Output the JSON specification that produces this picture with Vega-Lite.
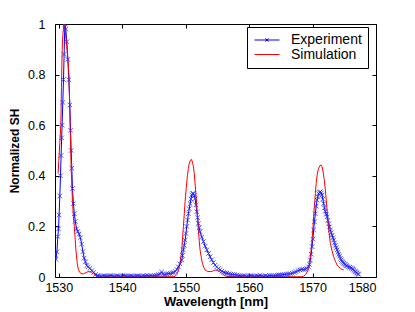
{
"$schema": "https://vega.github.io/schema/vega-lite/v6.json",
"width": 321, "height": 253,
"autosize": "none",
"padding": {"left": 55, "top": 24, "right": 39, "bottom": 35},
"background": "white",
"config": {
  "view": {"stroke": null},
  "font": "Liberation Sans",
  "axis": {"grid": false, "domainColor": "#000", "domainWidth": 1, "tickColor": "#000", "tickSize": -4, "labelColor": "#000", "titleColor": "#000", "labelFont": "Liberation Sans", "titleFont": "Liberation Sans"}
},
"datasets": {
"pts": [
{"wl":1529.4,"v":0.09,"s":"Experiment"},{"wl":1529.55,"v":0.07,"s":"Experiment"},{"wl":1529.7,"v":0.1,"s":"Experiment"},{"wl":1529.85,"v":0.16,"s":"Experiment"},{"wl":1529.95,"v":0.19,"s":"Experiment"},{"wl":1530.05,"v":0.245,"s":"Experiment"},{"wl":1530.16,"v":0.32,"s":"Experiment"},{"wl":1530.27,"v":0.4,"s":"Experiment"},{"wl":1530.36,"v":0.48,"s":"Experiment"},{"wl":1530.45,"v":0.55,"s":"Experiment"},{"wl":1530.52,"v":0.6,"s":"Experiment"},{"wl":1530.63,"v":0.69,"s":"Experiment"},{"wl":1530.74,"v":0.78,"s":"Experiment"},{"wl":1530.84,"v":0.88,"s":"Experiment"},{"wl":1530.95,"v":1.0,"s":"Experiment"},{"wl":1531.1,"v":0.98,"s":"Experiment"},{"wl":1531.26,"v":0.93,"s":"Experiment"},{"wl":1531.42,"v":0.86,"s":"Experiment"},{"wl":1531.58,"v":0.78,"s":"Experiment"},{"wl":1531.74,"v":0.68,"s":"Experiment"},{"wl":1531.85,"v":0.58,"s":"Experiment"},{"wl":1531.95,"v":0.5,"s":"Experiment"},{"wl":1532.05,"v":0.43,"s":"Experiment"},{"wl":1532.16,"v":0.35,"s":"Experiment"},{"wl":1532.3,"v":0.29,"s":"Experiment"},{"wl":1532.45,"v":0.25,"s":"Experiment"},{"wl":1532.6,"v":0.22,"s":"Experiment"},{"wl":1532.8,"v":0.19,"s":"Experiment"},{"wl":1533.0,"v":0.18,"s":"Experiment"},{"wl":1533.2,"v":0.17,"s":"Experiment"},{"wl":1533.4,"v":0.155,"s":"Experiment"},{"wl":1533.6,"v":0.13,"s":"Experiment"},{"wl":1533.8,"v":0.1,"s":"Experiment"},{"wl":1534.0,"v":0.075,"s":"Experiment"},{"wl":1534.2,"v":0.06,"s":"Experiment"},{"wl":1534.4,"v":0.045,"s":"Experiment"},{"wl":1534.6,"v":0.04,"s":"Experiment"},{"wl":1534.9,"v":0.034,"s":"Experiment"},{"wl":1535.2,"v":0.025,"s":"Experiment"},{"wl":1535.5,"v":0.018,"s":"Experiment"},{"wl":1535.8,"v":0.01,"s":"Experiment"},{"wl":1536.1,"v":0.006,"s":"Experiment"},
{"wl":1536.4,"v":0.004,"s":"Experiment"},{"wl":1536.7,"v":0.003,"s":"Experiment"},{"wl":1537.0,"v":0.005,"s":"Experiment"},{"wl":1537.3,"v":0.004,"s":"Experiment"},{"wl":1537.6,"v":0.003,"s":"Experiment"},{"wl":1537.9,"v":0.005,"s":"Experiment"},{"wl":1538.2,"v":0.006,"s":"Experiment"},{"wl":1538.5,"v":0.004,"s":"Experiment"},{"wl":1538.8,"v":0.003,"s":"Experiment"},{"wl":1539.1,"v":0.005,"s":"Experiment"},{"wl":1539.4,"v":0.004,"s":"Experiment"},{"wl":1539.7,"v":0.003,"s":"Experiment"},{"wl":1540.0,"v":0.005,"s":"Experiment"},{"wl":1540.3,"v":0.006,"s":"Experiment"},{"wl":1540.6,"v":0.004,"s":"Experiment"},{"wl":1540.9,"v":0.003,"s":"Experiment"},{"wl":1541.2,"v":0.004,"s":"Experiment"},{"wl":1541.5,"v":0.005,"s":"Experiment"},{"wl":1541.8,"v":0.003,"s":"Experiment"},{"wl":1542.1,"v":0.004,"s":"Experiment"},{"wl":1542.4,"v":0.005,"s":"Experiment"},{"wl":1542.7,"v":0.004,"s":"Experiment"},{"wl":1543.0,"v":0.003,"s":"Experiment"},{"wl":1543.3,"v":0.005,"s":"Experiment"},{"wl":1543.6,"v":0.004,"s":"Experiment"},{"wl":1543.9,"v":0.006,"s":"Experiment"},{"wl":1544.2,"v":0.004,"s":"Experiment"},{"wl":1544.5,"v":0.005,"s":"Experiment"},{"wl":1544.8,"v":0.004,"s":"Experiment"},{"wl":1545.1,"v":0.006,"s":"Experiment"},{"wl":1545.4,"v":0.007,"s":"Experiment"},{"wl":1545.7,"v":0.009,"s":"Experiment"},{"wl":1546.0,"v":0.012,"s":"Experiment"},{"wl":1546.2,"v":0.02,"s":"Experiment"},{"wl":1546.4,"v":0.012,"s":"Experiment"},{"wl":1546.7,"v":0.01,"s":"Experiment"},{"wl":1547.0,"v":0.012,"s":"Experiment"},{"wl":1547.3,"v":0.013,"s":"Experiment"},{"wl":1547.6,"v":0.014,"s":"Experiment"},{"wl":1547.9,"v":0.016,"s":"Experiment"},{"wl":1548.1,"v":0.018,"s":"Experiment"},{"wl":1548.35,"v":0.022,"s":"Experiment"},{"wl":1548.6,"v":0.03,"s":"Experiment"},{"wl":1548.85,"v":0.04,"s":"Experiment"},{"wl":1549.1,"v":0.052,"s":"Experiment"},{"wl":1549.38,"v":0.067,"s":"Experiment"},{"wl":1549.5,"v":0.085,"s":"Experiment"},{"wl":1549.64,"v":0.107,"s":"Experiment"},{"wl":1549.78,"v":0.125,"s":"Experiment"},{"wl":1549.91,"v":0.146,"s":"Experiment"},{"wl":1550.04,"v":0.172,"s":"Experiment"},{"wl":1550.17,"v":0.2,"s":"Experiment"},{"wl":1550.3,"v":0.225,"s":"Experiment"},{"wl":1550.43,"v":0.25,"s":"Experiment"},{"wl":1550.56,"v":0.27,"s":"Experiment"},{"wl":1550.7,"v":0.29,"s":"Experiment"},{"wl":1550.83,"v":0.308,"s":"Experiment"},{"wl":1550.96,"v":0.324,"s":"Experiment"},{"wl":1551.09,"v":0.33,"s":"Experiment"},{"wl":1551.22,"v":0.33,"s":"Experiment"},{"wl":1551.35,"v":0.322,"s":"Experiment"},{"wl":1551.48,"v":0.31,"s":"Experiment"},{"wl":1551.62,"v":0.285,"s":"Experiment"},{"wl":1551.75,"v":0.258,"s":"Experiment"},{"wl":1551.88,"v":0.235,"s":"Experiment"},{"wl":1552.0,"v":0.212,"s":"Experiment"},{"wl":1552.13,"v":0.195,"s":"Experiment"},{"wl":1552.27,"v":0.179,"s":"Experiment"},{"wl":1552.53,"v":0.158,"s":"Experiment"},{"wl":1552.8,"v":0.14,"s":"Experiment"},{"wl":1553.07,"v":0.122,"s":"Experiment"},{"wl":1553.33,"v":0.107,"s":"Experiment"},{"wl":1553.6,"v":0.093,"s":"Experiment"},{"wl":1553.85,"v":0.08,"s":"Experiment"},{"wl":1554.1,"v":0.068,"s":"Experiment"},{"wl":1554.37,"v":0.057,"s":"Experiment"},{"wl":1554.64,"v":0.047,"s":"Experiment"},{"wl":1554.9,"v":0.04,"s":"Experiment"},{"wl":1555.17,"v":0.033,"s":"Experiment"},{"wl":1555.43,"v":0.028,"s":"Experiment"},{"wl":1555.7,"v":0.023,"s":"Experiment"},{"wl":1556.0,"v":0.019,"s":"Experiment"},{"wl":1556.25,"v":0.016,"s":"Experiment"},{"wl":1556.49,"v":0.015,"s":"Experiment"},{"wl":1556.8,"v":0.013,"s":"Experiment"},{"wl":1557.1,"v":0.011,"s":"Experiment"},{"wl":1557.4,"v":0.01,"s":"Experiment"},{"wl":1557.7,"v":0.009,"s":"Experiment"},{"wl":1558.07,"v":0.008,"s":"Experiment"},{"wl":1558.4,"v":0.006,"s":"Experiment"},{"wl":1558.7,"v":0.005,"s":"Experiment"},{"wl":1559.0,"v":0.004,"s":"Experiment"},{"wl":1559.3,"v":0.005,"s":"Experiment"},{"wl":1559.6,"v":0.003,"s":"Experiment"},{"wl":1559.9,"v":0.004,"s":"Experiment"},{"wl":1560.2,"v":0.005,"s":"Experiment"},{"wl":1560.5,"v":0.004,"s":"Experiment"},{"wl":1560.8,"v":0.003,"s":"Experiment"},{"wl":1561.1,"v":0.005,"s":"Experiment"},{"wl":1561.4,"v":0.004,"s":"Experiment"},{"wl":1561.7,"v":0.006,"s":"Experiment"},{"wl":1562.0,"v":0.004,"s":"Experiment"},{"wl":1562.3,"v":0.003,"s":"Experiment"},{"wl":1562.6,"v":0.005,"s":"Experiment"},{"wl":1562.9,"v":0.004,"s":"Experiment"},{"wl":1563.2,"v":0.006,"s":"Experiment"},{"wl":1563.5,"v":0.005,"s":"Experiment"},{"wl":1563.8,"v":0.004,"s":"Experiment"},{"wl":1564.1,"v":0.006,"s":"Experiment"},{"wl":1564.4,"v":0.007,"s":"Experiment"},{"wl":1564.7,"v":0.008,"s":"Experiment"},{"wl":1565.0,"v":0.008,"s":"Experiment"},{"wl":1565.3,"v":0.009,"s":"Experiment"},{"wl":1565.6,"v":0.01,"s":"Experiment"},{"wl":1565.9,"v":0.011,"s":"Experiment"},{"wl":1566.2,"v":0.012,"s":"Experiment"},{"wl":1566.5,"v":0.013,"s":"Experiment"},{"wl":1566.8,"v":0.015,"s":"Experiment"},{"wl":1567.1,"v":0.018,"s":"Experiment"},{"wl":1567.4,"v":0.021,"s":"Experiment"},{"wl":1567.7,"v":0.025,"s":"Experiment"},{"wl":1568.0,"v":0.028,"s":"Experiment"},{"wl":1568.3,"v":0.03,"s":"Experiment"},{"wl":1568.6,"v":0.03,"s":"Experiment"},{"wl":1568.86,"v":0.031,"s":"Experiment"},{"wl":1569.1,"v":0.034,"s":"Experiment"},{"wl":1569.38,"v":0.04,"s":"Experiment"},{"wl":1569.52,"v":0.05,"s":"Experiment"},{"wl":1569.65,"v":0.067,"s":"Experiment"},{"wl":1569.78,"v":0.09,"s":"Experiment"},{"wl":1569.92,"v":0.12,"s":"Experiment"},{"wl":1570.05,"v":0.15,"s":"Experiment"},{"wl":1570.17,"v":0.186,"s":"Experiment"},{"wl":1570.3,"v":0.218,"s":"Experiment"},{"wl":1570.44,"v":0.25,"s":"Experiment"},{"wl":1570.57,"v":0.28,"s":"Experiment"},{"wl":1570.71,"v":0.304,"s":"Experiment"},{"wl":1570.83,"v":0.318,"s":"Experiment"},{"wl":1570.96,"v":0.33,"s":"Experiment"},{"wl":1571.1,"v":0.335,"s":"Experiment"},{"wl":1571.23,"v":0.337,"s":"Experiment"},{"wl":1571.37,"v":0.332,"s":"Experiment"},{"wl":1571.5,"v":0.324,"s":"Experiment"},{"wl":1571.62,"v":0.308,"s":"Experiment"},{"wl":1571.75,"v":0.29,"s":"Experiment"},{"wl":1571.88,"v":0.273,"s":"Experiment"},{"wl":1572.0,"v":0.26,"s":"Experiment"},{"wl":1572.15,"v":0.248,"s":"Experiment"},{"wl":1572.29,"v":0.238,"s":"Experiment"},{"wl":1572.42,"v":0.224,"s":"Experiment"},{"wl":1572.55,"v":0.21,"s":"Experiment"},{"wl":1572.68,"v":0.198,"s":"Experiment"},{"wl":1572.81,"v":0.186,"s":"Experiment"},{"wl":1572.94,"v":0.175,"s":"Experiment"},{"wl":1573.07,"v":0.165,"s":"Experiment"},{"wl":1573.2,"v":0.155,"s":"Experiment"},{"wl":1573.33,"v":0.146,"s":"Experiment"},{"wl":1573.47,"v":0.135,"s":"Experiment"},{"wl":1573.6,"v":0.125,"s":"Experiment"},{"wl":1573.73,"v":0.116,"s":"Experiment"},{"wl":1573.87,"v":0.107,"s":"Experiment"},{"wl":1574.0,"v":0.098,"s":"Experiment"},{"wl":1574.13,"v":0.09,"s":"Experiment"},{"wl":1574.26,"v":0.082,"s":"Experiment"},{"wl":1574.39,"v":0.074,"s":"Experiment"},{"wl":1574.52,"v":0.068,"s":"Experiment"},{"wl":1574.65,"v":0.062,"s":"Experiment"},{"wl":1574.78,"v":0.058,"s":"Experiment"},{"wl":1574.91,"v":0.054,"s":"Experiment"},{"wl":1575.05,"v":0.051,"s":"Experiment"},{"wl":1575.18,"v":0.048,"s":"Experiment"},{"wl":1575.31,"v":0.045,"s":"Experiment"},{"wl":1575.45,"v":0.043,"s":"Experiment"},{"wl":1575.65,"v":0.04,"s":"Experiment"},{"wl":1575.85,"v":0.038,"s":"Experiment"},{"wl":1576.05,"v":0.036,"s":"Experiment"},{"wl":1576.24,"v":0.034,"s":"Experiment"},{"wl":1576.37,"v":0.031,"s":"Experiment"},{"wl":1576.5,"v":0.028,"s":"Experiment"},{"wl":1576.63,"v":0.024,"s":"Experiment"},{"wl":1576.76,"v":0.021,"s":"Experiment"},{"wl":1576.88,"v":0.018,"s":"Experiment"},{"wl":1577.0,"v":0.015,"s":"Experiment"},{"wl":1577.14,"v":0.012,"s":"Experiment"},{"wl":1577.28,"v":0.01,"s":"Experiment"},
{"wl":1529.89,"v":0.41,"s":"Simulation"},{"wl":1530.0,"v":0.46,"s":"Simulation"},{"wl":1530.16,"v":0.53,"s":"Simulation"},{"wl":1530.32,"v":0.6,"s":"Simulation"},{"wl":1530.42,"v":0.75,"s":"Simulation"},{"wl":1530.53,"v":0.9,"s":"Simulation"},{"wl":1530.65,"v":0.96,"s":"Simulation"},{"wl":1530.8,"v":1.0,"s":"Simulation"},{"wl":1530.95,"v":0.99,"s":"Simulation"},{"wl":1531.1,"v":0.95,"s":"Simulation"},{"wl":1531.3,"v":0.9,"s":"Simulation"},{"wl":1531.45,"v":0.86,"s":"Simulation"},{"wl":1531.6,"v":0.8,"s":"Simulation"},{"wl":1531.76,"v":0.62,"s":"Simulation"},{"wl":1531.96,"v":0.42,"s":"Simulation"},{"wl":1532.15,"v":0.3,"s":"Simulation"},{"wl":1532.3,"v":0.24,"s":"Simulation"},{"wl":1532.44,"v":0.2,"s":"Simulation"},{"wl":1532.58,"v":0.15,"s":"Simulation"},{"wl":1532.72,"v":0.1,"s":"Simulation"},{"wl":1532.9,"v":0.055,"s":"Simulation"},{"wl":1533.08,"v":0.03,"s":"Simulation"},{"wl":1533.3,"v":0.018,"s":"Simulation"},{"wl":1533.63,"v":0.013,"s":"Simulation"},{"wl":1533.9,"v":0.013,"s":"Simulation"},{"wl":1534.15,"v":0.016,"s":"Simulation"},{"wl":1534.5,"v":0.02,"s":"Simulation"},{"wl":1534.84,"v":0.022,"s":"Simulation"},{"wl":1535.1,"v":0.02,"s":"Simulation"},{"wl":1535.48,"v":0.012,"s":"Simulation"},{"wl":1535.75,"v":0.006,"s":"Simulation"},{"wl":1536.02,"v":0.002,"s":"Simulation"},{"wl":1536.5,"v":0.001,"s":"Simulation"},{"wl":1540.0,"v":0.001,"s":"Simulation"},{"wl":1545.0,"v":0.001,"s":"Simulation"},{"wl":1548.0,"v":0.001,"s":"Simulation"},{"wl":1548.33,"v":0.003,"s":"Simulation"},{"wl":1548.6,"v":0.01,"s":"Simulation"},{"wl":1548.85,"v":0.025,"s":"Simulation"},{"wl":1549.1,"v":0.055,"s":"Simulation"},{"wl":1549.38,"v":0.107,"s":"Simulation"},{"wl":1549.5,"v":0.15,"s":"Simulation"},{"wl":1549.64,"v":0.2,"s":"Simulation"},{"wl":1549.78,"v":0.25,"s":"Simulation"},{"wl":1549.91,"v":0.3,"s":"Simulation"},{"wl":1550.1,"v":0.355,"s":"Simulation"},{"wl":1550.27,"v":0.4,"s":"Simulation"},{"wl":1550.42,"v":0.43,"s":"Simulation"},{"wl":1550.58,"v":0.45,"s":"Simulation"},{"wl":1550.75,"v":0.462,"s":"Simulation"},{"wl":1550.9,"v":0.465,"s":"Simulation"},{"wl":1551.06,"v":0.455,"s":"Simulation"},{"wl":1551.22,"v":0.436,"s":"Simulation"},{"wl":1551.35,"v":0.41,"s":"Simulation"},{"wl":1551.48,"v":0.37,"s":"Simulation"},{"wl":1551.62,"v":0.325,"s":"Simulation"},{"wl":1551.75,"v":0.28,"s":"Simulation"},{"wl":1551.88,"v":0.232,"s":"Simulation"},{"wl":1552.0,"v":0.186,"s":"Simulation"},{"wl":1552.13,"v":0.145,"s":"Simulation"},{"wl":1552.27,"v":0.107,"s":"Simulation"},{"wl":1552.45,"v":0.078,"s":"Simulation"},{"wl":1552.64,"v":0.054,"s":"Simulation"},{"wl":1552.85,"v":0.038,"s":"Simulation"},{"wl":1553.06,"v":0.028,"s":"Simulation"},{"wl":1553.45,"v":0.022,"s":"Simulation"},{"wl":1553.85,"v":0.021,"s":"Simulation"},{"wl":1554.2,"v":0.023,"s":"Simulation"},{"wl":1554.6,"v":0.027,"s":"Simulation"},{"wl":1554.91,"v":0.028,"s":"Simulation"},{"wl":1555.3,"v":0.022,"s":"Simulation"},{"wl":1555.7,"v":0.015,"s":"Simulation"},{"wl":1556.1,"v":0.006,"s":"Simulation"},{"wl":1556.49,"v":0.002,"s":"Simulation"},{"wl":1560.0,"v":0.001,"s":"Simulation"},{"wl":1565.0,"v":0.001,"s":"Simulation"},{"wl":1568.3,"v":0.001,"s":"Simulation"},{"wl":1568.59,"v":0.003,"s":"Simulation"},{"wl":1568.9,"v":0.01,"s":"Simulation"},{"wl":1569.15,"v":0.02,"s":"Simulation"},{"wl":1569.38,"v":0.034,"s":"Simulation"},{"wl":1569.52,"v":0.055,"s":"Simulation"},{"wl":1569.65,"v":0.08,"s":"Simulation"},{"wl":1569.78,"v":0.11,"s":"Simulation"},{"wl":1569.92,"v":0.146,"s":"Simulation"},{"wl":1570.05,"v":0.19,"s":"Simulation"},{"wl":1570.17,"v":0.238,"s":"Simulation"},{"wl":1570.3,"v":0.285,"s":"Simulation"},{"wl":1570.44,"v":0.33,"s":"Simulation"},{"wl":1570.57,"v":0.37,"s":"Simulation"},{"wl":1570.71,"v":0.4,"s":"Simulation"},{"wl":1570.83,"v":0.418,"s":"Simulation"},{"wl":1570.96,"v":0.43,"s":"Simulation"},{"wl":1571.15,"v":0.44,"s":"Simulation"},{"wl":1571.34,"v":0.443,"s":"Simulation"},{"wl":1571.5,"v":0.435,"s":"Simulation"},{"wl":1571.66,"v":0.416,"s":"Simulation"},{"wl":1571.84,"v":0.385,"s":"Simulation"},{"wl":1572.02,"v":0.344,"s":"Simulation"},{"wl":1572.15,"v":0.305,"s":"Simulation"},{"wl":1572.29,"v":0.265,"s":"Simulation"},{"wl":1572.42,"v":0.225,"s":"Simulation"},{"wl":1572.54,"v":0.186,"s":"Simulation"},{"wl":1572.68,"v":0.158,"s":"Simulation"},{"wl":1572.81,"v":0.133,"s":"Simulation"},{"wl":1573.07,"v":0.103,"s":"Simulation"},{"wl":1573.33,"v":0.08,"s":"Simulation"},{"wl":1573.6,"v":0.062,"s":"Simulation"},{"wl":1573.87,"v":0.047,"s":"Simulation"},{"wl":1574.13,"v":0.04,"s":"Simulation"},{"wl":1574.39,"v":0.034,"s":"Simulation"},{"wl":1574.65,"v":0.03,"s":"Simulation"},{"wl":1574.91,"v":0.028,"s":"Simulation"}
]
},
"data": {"name": "pts"},
"layer": [
  {
    "mark": {"type": "line", "strokeWidth": 1, "clip": true},
    "encoding": {
      "x": {"field": "wl", "type": "quantitative", "scale": {"domain": [1529.4, 1580], "nice": false, "zero": false},
        "axis": {"orient": "bottom", "values": [1530,1540,1550,1560,1570,1580], "format": "d", "labelFontSize": 12.5, "labelPadding": 8, "title": "Wavelength [nm]", "titleFontSize": 13, "titleFontWeight": "bold", "titlePadding": 2}},
      "y": {"field": "v", "type": "quantitative", "scale": {"domain": [0, 1], "nice": false},
        "axis": {"orient": "left", "values": [0,0.2,0.4,0.6,0.8,1], "format": "~g", "labelFontSize": 12.5, "labelPadding": 14, "title": "Normalized SH", "titleFontSize": 12, "titleFontWeight": "bold", "titlePadding": 6}},
      "color": {"field": "s", "type": "nominal", "scale": {"domain": ["Experiment", "Simulation"], "range": ["#0000ff", "#ff0000"]},
        "legend": {"orient": "none", "legendX": 192, "legendY": 3, "title": null, "symbolType": "M-2,0L2,0", "symbolSize": 156, "symbolStrokeWidth": 1, "symbolOffset": 7, "labelOffset": 17, "labelFontSize": 14, "labelFont": "Liberation Sans", "labelColor": "#000", "strokeColor": "#000", "fillColor": "#fff", "padding": 6, "rowPadding": 0.5,
          "encode": {"symbols": {"update": {"shape": {"signal": "datum.value == 'Experiment' ? 'M-2,0L2,0M-0.25,-0.25L0.25,0.25M-0.25,0.25L0.25,-0.25' : 'M-2,0L2,0'"}}}}}}
    }
  },
  {
    "transform": [{"filter": "datum.s == 'Experiment'"}],
    "mark": {"type": "point", "shape": "M-1,-1L1,1M-1,1L1,-1", "size": 20, "filled": false, "stroke": "#2a2aff", "strokeWidth": 0.8, "opacity": 1, "clip": true},
    "encoding": {
      "x": {"field": "wl", "type": "quantitative", "axis": {"orient": "top", "values": [1530,1540,1550,1560,1570,1580], "labels": false, "title": null}},
      "y": {"field": "v", "type": "quantitative", "axis": {"orient": "right", "values": [0,0.2,0.4,0.6,0.8,1], "labels": false, "title": null}}
    }
  }
],
"resolve": {"axis": {"x": "independent", "y": "independent"}}
}
